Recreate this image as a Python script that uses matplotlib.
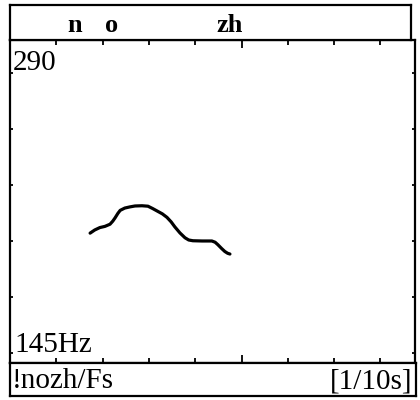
import matplotlib
matplotlib.use("Agg")
import matplotlib.pyplot as plt

plt.rcParams['font.family'] = ['Liberation Serif', 'DejaVu Serif']

# pitch contour (time in s, F0 in Hz)
t = [0.173, 0.183, 0.194, 0.205, 0.216, 0.222, 0.227, 0.233, 0.238, 0.248,
     0.259, 0.270, 0.285, 0.298, 0.308, 0.318, 0.329, 0.339, 0.348, 0.356,
     0.367, 0.378, 0.386, 0.395, 0.415, 0.436, 0.443, 0.449, 0.457, 0.464,
     0.470, 0.475]
f0 = [191.6, 192.9, 193.9, 194.4, 195.3, 196.6, 198.0, 199.9, 201.2, 202.2,
      202.7, 203.1, 203.2, 203.0, 202.0, 200.9, 199.7, 198.2, 196.3, 194.2,
      191.7, 189.7, 188.8, 188.5, 188.4, 188.4, 187.9, 186.9, 185.4, 184.2,
      183.5, 183.2]

# segment labels and their times
seg_labels = ["n", "o", "zh"]
seg_times = [0.140, 0.220, 0.475]

f_min, f_max = 145, 290
y_ticks = [148.1, 167.1, 188.4, 212.5, 239.6, 270.2]
x_minor = [0.1, 0.2, 0.3, 0.4, 0.6, 0.7, 0.8]
x_major = [0.5]

W, H = 420, 400
px_per_s = 463.0
fs = 21

fig = plt.figure(figsize=(4.2, 4.0), dpi=100)
fig.patch.set_facecolor("white")

def box(l, t_, r, b):
    return [l / W, 1 - b / H, (r - l) / W, (b - t_) / H]

# main plot
ax = fig.add_axes(box(10, 40, 415, 363))
ax.plot(t, f0, color="black", lw=2.3, solid_capstyle="round",
        solid_joinstyle="round")
ax.set_yscale("log")
ax.set_ylim(f_min, f_max)
ax.set_xlim(0, 405 / px_per_s)
ax.set_xticks(x_major)
ax.set_xticks(x_minor, minor=True)
ax.set_yticks(y_ticks)
ax.set_yticks([], minor=True)
ax.tick_params(axis="x", which="major", direction="in", length=6, width=1.3,
               top=True, bottom=True, labelbottom=False)
ax.tick_params(axis="x", which="minor", direction="in", length=3.5, width=1.3,
               top=True, bottom=True)
ax.tick_params(axis="y", which="major", direction="in", length=2.5, width=1.3,
               left=True, right=True, labelleft=False)
for s in ax.spines.values():
    s.set_linewidth(1.6)
ax.text(0.006, 0.907, "290", transform=ax.transAxes, ha="left", va="baseline",
        fontsize=fs)
ax.text(0.010, 0.034, "145Hz", transform=ax.transAxes, ha="left",
        va="baseline", fontsize=fs)

# top label band
axt = fig.add_axes(box(10, 5, 411, 40))
axt.set_xlim(0, 401 / px_per_s)
axt.set_ylim(0, 1)
axt.set_xticks([])
axt.set_yticks([])
for s in axt.spines.values():
    s.set_linewidth(1.6)
for lab, x in zip(seg_labels, seg_times):
    axt.text(x, 0.23, lab, ha="center", va="baseline", fontsize=19,
             fontweight="bold")

# bottom info band
axb = fig.add_axes(box(10, 363, 416, 396))
axb.set_xlim(0, 1)
axb.set_ylim(0, 1)
axb.set_xticks([])
axb.set_yticks([])
for s in axb.spines.values():
    s.set_linewidth(1.6)
axb.text(0.004, 0.24, "!nozh/Fs", ha="left", va="baseline", fontsize=fs)
axb.text(0.99, 0.24, "[1/10s]", ha="right", va="baseline", fontsize=fs)

fig.savefig("out.png", dpi=100, facecolor="white")
